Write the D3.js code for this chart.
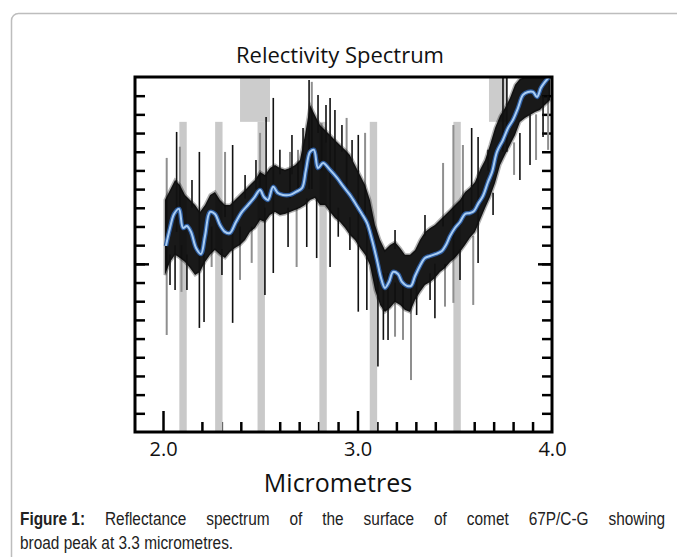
<!DOCTYPE html>
<html>
  <head>
    <meta charset="utf-8">
    <title>Relectivity Spectrum</title>
    <script src="https://cdn.jsdelivr.net/npm/d3@7"></script>
    <style>
      html, body { margin: 0; padding: 0; background: #fff; overflow: hidden; }
      body { width: 677px; height: 557px; position: relative; }
      #svg { position: absolute; left: 0; top: 0; }
      #caption {
        position: absolute; left: 20px; top: 507px; width: 733px;
        transform: scaleX(0.88); transform-origin: 0 0;
        font-family: "Liberation Sans", Arial, sans-serif;
        font-size: 17.5px; line-height: 24px; color: #222;
      }
      #caption .l1 { text-align: justify; text-align-last: justify; }
      #caption b { display: inline-block; }
    </style>
  </head>
  <body>
    <svg id="svg" width="677" height="557"></svg>
    <div id="caption"></div>

    <script>
      // text
      const title = "Relectivity Spectrum";
      const xTitle = "Micrometres";
      const captionLead = "Figure 1:";
      const captionLines = [
        " Reflectance spectrum of the surface of comet 67P/C-G showing",
        "broad peak at 3.3 micrometres."
      ];

      // ticks
      const xLabels = [2.0, 3.0, 4.0];
      const xMajor = [2.0, 3.0];
      const xMinor = [2.1, 2.2, 2.3, 2.4, 2.5, 2.6, 2.7, 2.8, 2.9, 3.1, 3.2, 3.3, 3.4, 3.5, 3.6, 3.7, 3.8, 3.9];
      const yTicks = [1, 2, 3, 4, 5, 6, 7, 8, 9, 10, 11, 12, 13, 14, 15, 16, 17, 18];
      const yMajor = [9];

      // masked wavelength ranges (micrometres)
      const narrowMasks = [[2.084, 2.122], [2.268, 2.306], [2.486, 2.524], [2.804, 2.842], [3.063, 3.101], [3.493, 3.531]];
      const topMasks = [[2.396, 2.550], [3.676, 3.769]];
      const maskLevel = 16.6;

      // dense part of the measured spectrum: wavelength, upper and lower envelope (arbitrary units)
      const bandUm = [2.010, 2.036, 2.062, 2.087, 2.113, 2.139, 2.165, 2.190, 2.216, 2.242,
        2.267, 2.293, 2.319, 2.344, 2.370, 2.396, 2.422, 2.447, 2.473, 2.499,
        2.524, 2.550, 2.576, 2.601, 2.627, 2.653, 2.679, 2.704, 2.730, 2.756,
        2.781, 2.807, 2.833, 2.859, 2.884, 2.910, 2.936, 2.961, 2.987, 3.013,
        3.039, 3.064, 3.090, 3.116, 3.141, 3.167, 3.193, 3.219, 3.244, 3.270,
        3.296, 3.321, 3.347, 3.373, 3.398, 3.424, 3.450, 3.476, 3.501, 3.527,
        3.553, 3.578, 3.604, 3.630, 3.656, 3.681, 3.707, 3.733, 3.758, 3.784,
        3.810, 3.835, 3.861, 3.887, 3.913, 3.938, 3.964, 3.990];
      const bandHigh = [12.42, 12.95, 13.49, 13.22, 12.69, 12.42, 12.15, 11.78, 12.15, 12.69,
        12.85, 12.42, 12.15, 12.15, 12.42, 12.69, 12.95, 13.22, 13.49, 13.92,
        13.76, 14.13, 14.29, 14.13, 14.03, 14.13, 14.29, 14.56, 15.90, 17.50,
        16.97, 16.43, 16.17, 15.90, 15.63, 15.36, 15.10, 14.83, 14.29, 13.76,
        13.22, 12.42, 11.08, 10.28, 9.74, 10.01, 10.17, 9.85, 9.48, 9.48,
        9.74, 10.28, 10.71, 10.92, 11.08, 11.35, 11.62, 11.88, 12.15, 12.42,
        12.85, 13.06, 13.38, 14.03, 14.56, 15.36, 16.27, 16.92, 17.34, 17.88,
        18.58, 18.90, 19.00, 19.00, 19.00, 19.00, 19.00, 19.00];
      const bandLow = [8.40, 9.10, 9.48, 9.31, 9.10, 8.78, 8.40, 8.57, 9.10, 9.48,
        9.74, 9.48, 9.31, 9.64, 9.85, 10.01, 10.28, 10.71, 10.92, 11.35,
        11.24, 11.62, 11.78, 11.62, 11.67, 11.78, 11.88, 11.99, 12.15, 12.42,
        12.53, 12.15, 12.15, 11.78, 11.46, 11.24, 10.92, 10.55, 10.28, 9.85,
        9.48, 8.94, 7.60, 6.80, 6.42, 6.64, 6.96, 6.80, 6.53, 6.42,
        7.07, 7.49, 7.87, 8.03, 8.24, 8.57, 8.78, 9.10, 9.31, 9.64,
        10.01, 10.39, 10.71, 11.35, 11.99, 12.58, 13.33, 14.29, 14.83, 15.36,
        15.90, 16.59, 16.81, 16.97, 17.13, 17.24, 17.50, 17.77];

      // isolated spikes: [wavelength, low, high]
      const blackSpikes = [[2.036, 7.87, 9.5], [2.062, 7.60, 10.0], [2.070, 10.71, 16.06], [2.123, 7.60, 9.5],
        [2.149, 12.0, 13.49], [2.187, 5.57, 14.99], [2.211, 5.89, 10.0], [2.303, 8.40, 9.8],
        [2.358, 5.84, 15.36], [2.422, 12.5, 13.76], [2.478, 13.0, 14.56], [2.524, 7.33, 12.0],
        [2.530, 12.5, 16.86], [2.567, 8.51, 17.88], [2.601, 13.8, 15.10], [2.643, 9.90, 12.0],
        [2.663, 13.8, 15.90], [2.720, 13.0, 16.27], [2.739, 9.90, 12.5], [2.751, 13.0, 18.84],
        [2.790, 9.31, 12.5], [2.797, 16.0, 18.04], [2.838, 15.5, 17.50], [2.859, 8.83, 17.88],
        [2.884, 14.0, 17.24], [2.901, 10.45, 12.0], [2.920, 15.0, 16.43], [2.961, 9.74, 11.5],
        [2.972, 14.5, 15.63], [3.004, 6.44, 15.90], [3.048, 6.53, 11.0], [3.105, 3.50, 9.0],
        [3.133, 4.93, 8.5], [3.157, 4.93, 8.5], [3.193, 9.8, 10.81], [3.304, 6.26, 8.5],
        [3.347, 10.5, 11.62], [3.373, 7.07, 8.5], [3.398, 6.09, 9.0], [3.527, 8.14, 9.8],
        [3.587, 12.0, 16.27], [3.620, 9.05, 15.79], [3.671, 14.0, 15.10], [3.697, 11.62, 12.8],
        [3.748, 15.0, 19.0], [3.768, 15.0, 19.0], [3.835, 13.49, 16.0], [3.887, 14.29, 17.0],
        [3.954, 15.79, 18.0]];
      const greySpikes = [[2.019, 5.19, 14.67], [2.087, 12.0, 15.27], [2.095, 7.50, 10.0], [2.250, 8.83, 11.0],
        [2.319, 11.5, 14.99], [2.396, 8.14, 11.0], [2.456, 9.05, 11.0], [2.499, 12.5, 16.01],
        [2.653, 12.5, 14.99], [2.687, 8.83, 12.0], [2.694, 13.0, 15.10], [2.765, 13.0, 18.74],
        [2.816, 14.0, 16.54], [2.944, 13.0, 16.81], [3.039, 11.0, 16.01], [3.193, 5.10, 8.0],
        [3.234, 4.93, 8.0], [3.275, 2.78, 8.0], [3.440, 11.0, 14.40], [3.450, 6.71, 9.0],
        [3.493, 6.91, 16.43], [3.542, 11.5, 15.36], [3.595, 6.80, 10.5], [3.805, 13.76, 15.5],
        [3.918, 14.56, 17.0], [3.980, 15.10, 18.0]];

      // smoothed spectrum (blue)
      const smoothed = [[2.015, 9.96], [2.036, 10.92], [2.057, 11.67], [2.082, 11.94], [2.103, 10.92],
        [2.123, 11.03], [2.144, 10.71], [2.170, 9.85], [2.195, 9.53], [2.216, 10.49],
        [2.242, 11.78], [2.267, 11.67], [2.293, 11.08], [2.319, 10.71], [2.344, 10.65],
        [2.375, 11.24], [2.406, 11.78], [2.437, 12.15], [2.468, 12.53], [2.499, 12.95],
        [2.519, 12.58], [2.540, 12.42], [2.566, 13.12], [2.591, 12.79], [2.617, 12.69],
        [2.653, 12.69], [2.684, 12.85], [2.715, 13.06], [2.735, 14.03], [2.756, 14.99],
        [2.776, 15.10], [2.797, 14.13], [2.823, 14.40], [2.859, 14.03], [2.895, 13.60],
        [2.925, 13.17], [2.961, 12.69], [2.997, 12.10], [3.023, 11.67], [3.049, 11.19],
        [3.075, 10.28], [3.100, 9.21], [3.121, 8.24], [3.141, 7.71], [3.162, 8.03],
        [3.183, 8.57], [3.208, 8.46], [3.229, 8.03], [3.254, 7.82], [3.275, 7.82],
        [3.296, 8.35], [3.321, 8.89], [3.347, 9.31], [3.373, 9.42], [3.404, 9.53],
        [3.434, 9.69], [3.455, 10.01], [3.476, 10.49], [3.501, 10.92], [3.527, 11.24],
        [3.553, 11.67], [3.578, 11.72], [3.599, 11.83], [3.620, 12.21], [3.645, 12.63],
        [3.671, 13.38], [3.692, 13.92], [3.717, 14.99], [3.748, 15.63], [3.774, 16.27],
        [3.799, 16.70], [3.825, 17.34], [3.851, 18.04], [3.877, 18.20], [3.902, 18.20],
        [3.923, 17.93], [3.943, 18.42], [3.964, 18.74], [3.985, 19.0]];

      const plotLeft = 135, plotRight = 552, plotTop = 77, plotBottom = 432;

      const x = d3.scaleLinear().domain([1.856, 4.0]).range([plotLeft, plotRight]);
      const y = d3.scaleLinear().domain([0, 19]).range([plotBottom, plotTop]);

      const svg = d3.select("#svg");

      // card outline
      svg.append("rect")
        .attr("x", 11.5).attr("y", 13.5)
        .attr("width", 720).attr("height", 600)
        .attr("rx", 7)
        .attr("fill", "none")
        .attr("stroke", "#bdbdbd")
        .attr("stroke-width", 1.5);

      svg.append("text")
        .attr("x", 340).attr("y", 63)
        .attr("text-anchor", "middle")
        .attr("font-family", "Open Sans, sans-serif")
        .attr("font-size", 22)
        .attr("fill", "#111")
        .text(title);

      svg.append("defs").append("clipPath").attr("id", "plot")
        .append("rect")
        .attr("x", plotLeft).attr("y", plotTop)
        .attr("width", plotRight - plotLeft).attr("height", plotBottom - plotTop);

      // ticks (inside the frame)
      function tickGroup(axis, tx, ty) {
        svg.append("g")
          .attr("transform", `translate(${tx},${ty})`)
          .call(axis)
          .call(g => g.select(".domain").remove())
          .call(g => g.selectAll(".tick line").attr("stroke", "#000").attr("stroke-width", 2.5));
      }
      tickGroup(d3.axisBottom(x).tickValues(xMinor).tickSize(-10).tickFormat(""), 0, plotBottom);
      tickGroup(d3.axisBottom(x).tickValues(xMajor).tickSize(-21).tickFormat(""), 0, plotBottom);
      tickGroup(d3.axisLeft(y).tickValues(yTicks).tickSize(-10).tickFormat(""), plotLeft, 0);
      tickGroup(d3.axisLeft(y).tickValues(yMajor).tickSize(-14).tickFormat(""), plotLeft, 0);
      tickGroup(d3.axisRight(y).tickValues(yTicks).tickSize(-10).tickFormat(""), plotRight, 0);
      tickGroup(d3.axisRight(y).tickValues(yMajor).tickSize(-14).tickFormat(""), plotRight, 0);

      // tick labels
      svg.append("g")
        .attr("transform", `translate(0,${plotBottom})`)
        .call(d3.axisBottom(x).tickValues(xLabels).tickSize(0).tickPadding(10).tickFormat(d3.format(".1f")))
        .call(g => g.select(".domain").remove())
        .call(g => g.selectAll("text")
          .attr("font-family", "Open Sans, sans-serif")
          .attr("font-size", 20)
          .attr("fill", "#111"));

      svg.append("text")
        .attr("x", 338).attr("y", 492)
        .attr("text-anchor", "middle")
        .attr("font-family", "Open Sans, sans-serif")
        .attr("font-size", 25)
        .attr("fill", "#111")
        .text(xTitle);

      const plot = svg.append("g").attr("clip-path", "url(#plot)");

      // masked regions
      plot.selectAll("rect.narrow")
        .data(narrowMasks)
        .join("rect")
        .attr("class", "narrow")
        .attr("x", d => x(d[0]))
        .attr("width", d => x(d[1]) - x(d[0]))
        .attr("y", y(maskLevel))
        .attr("height", y(0) - y(maskLevel))
        .attr("fill", "#c9c9c9");
      plot.selectAll("rect.block")
        .data(topMasks)
        .join("rect")
        .attr("class", "block")
        .attr("x", d => x(d[0]))
        .attr("width", d => x(d[1]) - x(d[0]))
        .attr("y", y(19))
        .attr("height", y(maskLevel) - y(19))
        .attr("fill", "#cccccc");

      // grey spikes, then the noisy band, then black spikes
      plot.selectAll("line.grey")
        .data(greySpikes)
        .join("line")
        .attr("class", "grey")
        .attr("x1", d => x(d[0])).attr("x2", d => x(d[0]))
        .attr("y1", d => y(d[1])).attr("y2", d => y(d[2]))
        .attr("stroke", "#8f8f8f")
        .attr("stroke-width", 2);

      const band = bandUm.map((u, i) => ({ u: u, hi: bandHigh[i], lo: bandLow[i] }));
      const area = d3.area()
        .x(d => x(d.u))
        .y0(d => y(d.lo))
        .y1(d => y(d.hi))
        .curve(d3.curveLinear);
      plot.append("path")
        .attr("d", area(band))
        .attr("fill", "#050505")
        .attr("fill-opacity", 0.92)
        .attr("stroke", "#000")
        .attr("stroke-opacity", 0.3)
        .attr("stroke-width", 3);

      plot.selectAll("line.black")
        .data(blackSpikes)
        .join("line")
        .attr("class", "black")
        .attr("x1", d => x(d[0])).attr("x2", d => x(d[0]))
        .attr("y1", d => y(d[1])).attr("y2", d => y(d[2]))
        .attr("stroke", "#111")
        .attr("stroke-width", 1.6);

      // smoothed curve: dark edge with light core
      const linegen = d3.line()
        .x(d => x(d[0]))
        .y(d => y(d[1]))
        .curve(d3.curveCatmullRom.alpha(0.5));
      plot.append("path")
        .attr("d", linegen(smoothed))
        .attr("fill", "none")
        .attr("stroke", "#2d5c9f")
        .attr("stroke-width", 4.5);
      plot.append("path")
        .attr("d", linegen(smoothed))
        .attr("fill", "none")
        .attr("stroke", "#a9cdf3")
        .attr("stroke-width", 2);

      // frame
      svg.append("rect")
        .attr("x", plotLeft).attr("y", plotTop)
        .attr("width", plotRight - plotLeft).attr("height", plotBottom - plotTop)
        .attr("fill", "none")
        .attr("stroke", "#000")
        .attr("stroke-width", 3);

      // caption
      const cap = d3.select("#caption");
      const l1 = cap.append("div").attr("class", "l1");
      l1.append("b").text(captionLead);
      l1.append("span").text(captionLines[0]);
      cap.append("div").text(captionLines[1]);
    </script>
  </body>
</html>
